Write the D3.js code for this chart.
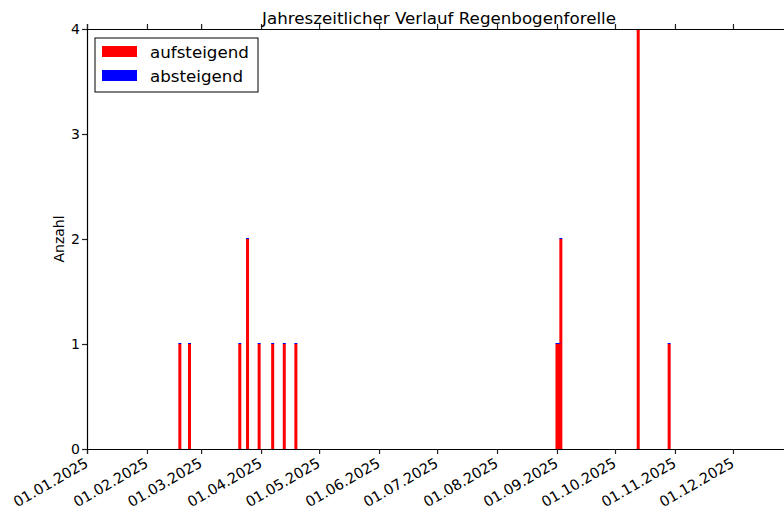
<!DOCTYPE html>
<html>
<head>
<meta charset="utf-8">
<script src="https://cdn.jsdelivr.net/npm/d3@7"></script>
<style>
  body { margin: 0; background: #fff; }
  svg { font-family: "DejaVu Sans", sans-serif; }
</style>
</head>
<body>
<svg id="vis" width="784" height="518"></svg>
<script>
// data
var dates = ["2025-02-18", "2025-02-23", "2025-03-21", "2025-03-25", "2025-03-31", "2025-04-07",
             "2025-04-13", "2025-04-19", "2025-09-01", "2025-09-02", "2025-09-03", "2025-10-13", "2025-10-29"];
var aufsteigend = [1, 1, 1, 2, 1, 1, 1, 1, 1, 1, 2, 4, 1];
var absteigend = [0, 0, 0, 0, 0, 0, 0, 0, 0, 0, 0, 0, 0];
var yTicks = [0, 1, 2, 3, 4];
var monthTicks = d3.utcMonths(new Date(Date.UTC(2025, 0, 1)), new Date(Date.UTC(2025, 11, 2)));

var svg = d3.select("#vis");
var mLeft = 87, mRight = 791, mTop = 29, mBottom = 449;

var x = d3.scaleUtc()
    .domain([new Date(Date.UTC(2025, 0, 1)), new Date(Date.UTC(2025, 11, 31))])
    .range([mLeft, mRight]);
var y = d3.scaleLinear().domain([0, 4]).range([mBottom, mTop]);

var fmt = d3.utcFormat("%d.%m.%Y");
var barW = 3;

var rows = dates.map((d, i) => ({
    date: d3.utcParse("%Y-%m-%d")(d),
    auf: aufsteigend[i],
    ab: absteigend[i]
}));

svg.append("clipPath").attr("id", "plot")
    .append("rect")
    .attr("x", mLeft).attr("y", mTop)
    .attr("width", mRight - mLeft).attr("height", mBottom - mTop);

// bars
var g = svg.append("g").attr("clip-path", "url(#plot)");
g.selectAll(".auf").data(rows).enter().append("rect")
    .attr("class", "auf")
    .attr("x", d => x(d.date) - barW / 2)
    .attr("width", barW)
    .attr("y", d => y(d.auf))
    .attr("height", d => y(0) - y(d.auf))
    .attr("fill", "red");

// absteigend stacked on top (zero height shows as a thin edge)
g.selectAll(".ab").data(rows).enter().append("rect")
    .attr("class", "ab")
    .attr("x", d => x(d.date) - barW / 2)
    .attr("width", barW)
    .attr("y", d => y(d.auf + d.ab) - 1)
    .attr("height", d => y(d.auf) - y(d.auf + d.ab) + 1)
    .attr("fill", "blue");

// axes
var xBottom = svg.append("g")
    .attr("transform", `translate(0,${mBottom})`)
    .call(d3.axisBottom(x).tickValues(monthTicks).tickSize(5).tickFormat(""));

var xTop = svg.append("g")
    .attr("transform", `translate(0,${mTop})`)
    .call(d3.axisTop(x).tickValues(monthTicks).tickSize(5).tickFormat(""));

var yLeft = svg.append("g")
    .attr("transform", `translate(${mLeft},0)`)
    .call(d3.axisLeft(y).tickValues(yTicks).tickSize(5).tickFormat(d3.format("d")));

[xBottom, xTop, yLeft].forEach(a => {
    a.select(".domain").attr("stroke", "#000").attr("stroke-width", 1.2);
    a.selectAll(".tick line").attr("stroke", "#222").attr("stroke-width", 1.2);
});
yLeft.selectAll(".tick text")
    .attr("font-size", 14)
    .attr("font-family", "DejaVu Sans")
    .attr("fill", "#000")
    .attr("x", -7)
    .attr("dy", "0.35em");

// rotated date labels
svg.append("g").selectAll("text").data(monthTicks).enter().append("text")
    .attr("transform", d => `translate(${x(d) - 3},${mBottom + 8}) rotate(-30)`)
    .attr("text-anchor", "end")
    .attr("dominant-baseline", "hanging")
    .attr("font-size", 14.5)
    .text(d => fmt(d));

// title + axis label
svg.append("text")
    .attr("x", (mLeft + mRight) / 2)
    .attr("y", 24)
    .attr("text-anchor", "middle")
    .attr("font-size", 16.7)
    .text("Jahreszeitlicher Verlauf Regenbogenforelle");

svg.append("text")
    .attr("transform", `translate(64,239) rotate(-90)`)
    .attr("text-anchor", "middle")
    .attr("font-size", 14)
    .text("Anzahl");

// legend
var lg = svg.append("g").attr("transform", "translate(95,38)");
lg.append("rect")
    .attr("width", 163).attr("height", 54)
    .attr("fill", "#fff").attr("stroke", "#000").attr("stroke-width", 1);
var items = [["aufsteigend", "red"], ["absteigend", "blue"]];
items.forEach((it, i) => {
    lg.append("rect")
        .attr("x", 7).attr("y", 8 + i * 24)
        .attr("width", 35).attr("height", 11)
        .attr("fill", it[1]);
    lg.append("text")
        .attr("x", 55).attr("y", 20 + i * 24)
        .attr("font-size", 16.7)
        .text(it[0]);
});
</script>
</body>
</html>
